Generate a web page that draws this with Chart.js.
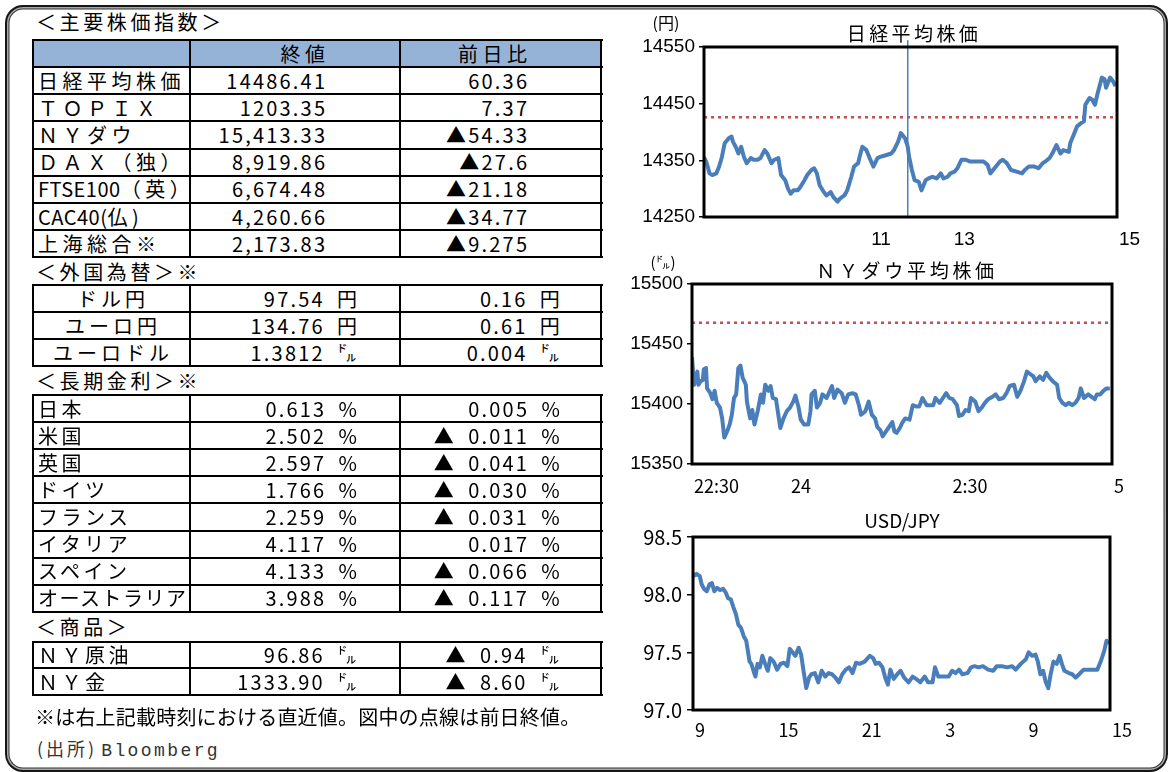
<!DOCTYPE html>
<html lang="ja"><head><meta charset="utf-8">
<script src="https://cdn.jsdelivr.net/npm/chart.js@4.4.0/dist/chart.umd.min.js"></script>
<style>
html,body{margin:0;padding:0;background:#fff}
body{position:relative;width:1170px;height:772px;overflow:hidden;font-family:'Noto Sans CJK JP','Noto Sans',sans-serif;color:#000}
#frame{position:absolute;left:5px;top:5px;width:1159px;height:763px;border:2px solid #151515;border-radius:18px;box-shadow:inset 0 0 0 1.5px #a8a8a8, inset 0 0 0 2.5px #333;}
.t{position:absolute;white-space:nowrap;height:30px;line-height:30px;font-size:20px;}
.ln{position:absolute;background:#000}
.num{letter-spacing:2.2px}
.hw{letter-spacing:0.5px}
.lab1{letter-spacing:4.5px}
.lab2{letter-spacing:4px}
.lab3{letter-spacing:3.5px}
.sec{letter-spacing:3.6px}
canvas{position:absolute}
</style></head><body>
<div id="frame"></div>
<canvas id="c1" width="540" height="240" style="left:620px;top:20px;width:540px;height:240px"></canvas>
<canvas id="c2" width="540" height="250" style="left:620px;top:255px;width:540px;height:250px"></canvas>
<canvas id="c3" width="540" height="260" style="left:620px;top:500px;width:540px;height:260px"></canvas>
<script>
// ===== table data =====
const stockNames = ['日経平均株価','ＴＯＰＩＸ','ＮＹダウ','ＤＡＸ（独）','FTSE100（英）','CAC40(仏)','上海総合※'];
const stockClose = ['14486.41','1203.35','15,413.33','8,919.86','6,674.48','4,260.66','2,173.83'];
const stockChange = ['60.36','7.37','▲54.33','▲27.6','▲21.18','▲34.77','▲9.275'];
const fxNames = ['ドル円','ユーロ円','ユーロドル'];
const fxClose = ['97.54 円','134.76 円','1.3812 ㌦'];
const fxChange = ['0.16 円','0.61 円','0.004 ㌦'];
const bondNames = ['日本','米国','英国','ドイツ','フランス','イタリア','スペイン','オーストラリア'];
const bondClose = ['0.613 %','2.502 %','2.597 %','1.766 %','2.259 %','4.117 %','4.133 %','3.988 %'];
const bondChange = ['0.005 %','▲ 0.011 %','▲ 0.041 %','▲ 0.030 %','▲ 0.031 %','0.017 %','▲ 0.066 %','▲ 0.117 %'];
const commNames = ['ＮＹ原油','ＮＹ金'];
const commClose = ['96.86 ㌦','1333.90 ㌦'];
const commChange = ['▲ 0.94 ㌦','▲ 8.60 ㌦'];
const headerCols = ['終値','前日比'];
const sectionTitles = ['＜主要株価指数＞','＜外国為替＞※','＜長期金利＞※','＜商品＞'];
const noteText = '※は右上記載時刻における直近値。図中の点線は前日終値。';

// ===== chart data =====
const nikkeiMin = [0,2,4,6,9,11,13,15,18,20,21,23,25,27,29,31,34,36,39,41,44,46,49,51,54,56,59,61,63,65,68,70,73,75,78,80,82,84,87,89,92,94,97,99,102,104,107,109,112,113,115,118,120,123,126,128,132,136,138,141,143,146,148,149,151,153,156,158,161,163,166,169,172,174,177,179,182,184,187,190,193,198,203,206,208,211,215,217,220,223,227,231,233,236,240,243,246,248,251,253,256,259,261,265,266,269,271,274,276,277,280,282,284,286,289,291,292,295,297,299];
const nikkeiVal = [14356,14345,14327,14324,14327,14339,14356,14380,14389,14392,14383,14374,14362,14374,14356,14345,14354,14351,14351,14354,14368,14362,14345,14351,14354,14324,14315,14300,14291,14297,14297,14303,14315,14324,14333,14336,14327,14306,14294,14288,14294,14285,14277,14283,14288,14297,14321,14339,14345,14356,14374,14368,14356,14339,14354,14356,14359,14362,14368,14383,14398,14389,14374,14356,14333,14315,14312,14297,14315,14318,14321,14318,14327,14318,14321,14327,14330,14336,14351,14351,14348,14348,14348,14342,14327,14336,14348,14351,14345,14333,14330,14327,14333,14339,14339,14336,14345,14348,14354,14362,14377,14362,14368,14365,14380,14398,14410,14416,14419,14448,14460,14457,14448,14469,14496,14493,14478,14496,14490,14481];
const nikkeiPrev = 14426.05;
const nikkeiBreak = 148;
const nikkeiXTicks = [120,180,300];
const nikkeiXLabels = ['11','13','15'];
const nikkeiYTicks = [14250,14350,14450,14550];

const dowMin = [0,2,3,5,6,8,10,11,13,14,17,19,21,23,26,28,30,33,35,37,39,41,43,45,47,50,51,54,56,58,61,64,66,68,71,73,75,78,80,82,85,88,91,94,96,99,101,104,108,110,111,114,116,119,121,125,128,130,132,135,139,142,145,149,152,155,157,161,164,167,170,172,175,177,180,183,186,188,190,193,195,198,202,205,208,211,214,218,221,224,226,230,233,236,239,242,246,248,251,254,257,259,263,266,269,272,275,279,282,285,289,292,295,299,302,305,308,311,314,317,319,323,326,329,332,335,339,341,344,347,350,353,356,359,361,364,368,371,374,376,379,382,385,388];
const dowVal = [15439,15416,15422,15427,15416,15419,15420,15429,15430,15413,15409,15404,15411,15401,15397,15388,15372,15378,15383,15391,15405,15408,15430,15432,15422,15416,15402,15388,15395,15383,15394,15408,15401,15416,15411,15415,15405,15404,15392,15380,15388,15394,15397,15402,15407,15397,15387,15383,15383,15394,15408,15411,15397,15401,15408,15405,15411,15415,15405,15412,15409,15401,15408,15409,15408,15399,15391,15394,15402,15391,15388,15381,15378,15373,15377,15381,15385,15377,15376,15380,15384,15388,15387,15399,15398,15398,15405,15399,15399,15399,15405,15401,15405,15409,15405,15404,15399,15390,15391,15395,15394,15405,15402,15394,15397,15401,15404,15406,15408,15404,15405,15409,15415,15416,15406,15411,15418,15427,15425,15423,15419,15423,15420,15426,15422,15419,15416,15405,15401,15399,15401,15399,15401,15405,15413,15405,15408,15406,15404,15408,15408,15411,15413,15413];
const dowPrev = 15467.66;
const dowXTicks = [0,90,240,390];
const dowXLabels = ['22:30','24','2:30','5'];
const dowYTicks = [15350,15400,15450,15500];

const fxHour = [0,0.25,0.49,0.62,0.79,0.99,1.19,1.36,1.53,1.73,1.93,2.17,2.35,2.52,2.72,2.91,3.09,3.26,3.46,3.65,3.83,3.95,4.07,4.20,4.35,4.49,4.64,4.81,4.99,5.19,5.38,5.56,5.80,6.05,6.30,6.54,6.79,6.96,7.16,7.36,7.60,7.78,7.95,8.15,8.35,8.52,8.77,9.01,9.26,9.51,9.75,10.0,10.25,10.49,10.74,10.99,11.23,11.48,11.73,11.98,12.35,12.72,12.96,13.14,13.38,13.63,13.83,14.02,14.20,14.44,14.69,14.94,15.19,15.51,15.80,16.05,16.35,16.67,16.91,17.23,17.41,17.65,18.02,18.40,18.64,18.89,19.14,19.38,19.75,20.0,20.25,20.54,20.86,21.23,21.60,21.85,22.22,22.59,22.96,23.21,23.58,23.95,24.15,24.40,24.64,24.81,24.99,25.19,25.38,25.56,25.73,25.93,26.17,26.37,26.54,26.72,27.04,27.28,27.53,27.78,28.10,28.40,28.77,29.09,29.33,29.58,29.75,29.88];
const fxVal = [98.16,98.18,98.16,98.09,98.05,98.03,98.09,98.10,98.03,98.06,98.04,98.05,98.02,97.97,97.96,97.89,97.83,97.74,97.71,97.64,97.60,97.51,97.42,97.40,97.34,97.29,97.40,97.37,97.47,97.40,97.34,97.45,97.42,97.35,97.40,97.41,97.38,97.53,97.50,97.47,97.54,97.48,97.34,97.19,97.28,97.31,97.32,97.24,97.34,97.29,97.32,97.31,97.28,97.24,97.31,97.35,97.37,97.32,97.41,97.40,97.42,97.47,97.45,97.40,97.41,97.37,97.28,97.22,97.35,97.27,97.31,97.34,97.28,97.24,97.29,97.27,97.24,97.29,97.24,97.24,97.37,97.29,97.29,97.29,97.34,97.32,97.35,97.31,97.32,97.37,97.38,97.37,97.38,97.35,97.34,97.38,97.38,97.37,97.38,97.35,97.40,97.44,97.50,97.47,97.48,97.42,97.31,97.34,97.24,97.19,97.31,97.42,97.40,97.47,97.40,97.34,97.32,97.31,97.28,97.31,97.35,97.35,97.35,97.35,97.42,97.51,97.60,97.57];
const fxXTicks = [0,6,12,18,24,30];
const fxXLabels = ['9','15','21','3','9','15'];
const fxYTicks = [97.0,97.5,98.0,98.5];

// ===== HTML helpers =====
const root = document.body;
function el(cls, style, html){ const d=document.createElement('div'); d.className=cls; Object.assign(d.style, style); if(html!==undefined) d.innerHTML=html; root.appendChild(d); return d; }
function line(x,y,w,h){ el('ln',{left:x+'px',top:y+'px',width:w+'px',height:h+'px'}); }
function text(html, x, cy, align, cls, extra){
  const st = {top:(cy-15)+'px'};
  if(align==='left') st.left = x+'px';
  else if(align==='right') st.right = (1170-x)+'px';
  else { st.left=(x-150)+'px'; st.width='300px'; st.textAlign='center'; }
  Object.assign(st, extra||{});
  return el('t '+(cls||''), st, html);
}
const esc = s => s.replace(/&/g,'&amp;').replace(/</g,'&lt;');
const wrapHW = s => esc(s).replace(/[\x21-\x7e]+/g, m => '<span class="hw">'+m+'</span>');
const fmtNum = s => '<span class="num">'+esc(s).replace(/ /g,'\u2002')+'</span>';

function grid(top, heights){
  let y=top; const ys=[y]; heights.forEach(h=>{y+=h; ys.push(y);});
  ys.forEach(yy=>line(32, yy-1, 571, 2));
  [33,190,400,601].forEach(x=>line(x-1, top-1, 2, y-top+2));
  return ys;
}
function rows(top, h, n){ return Array.from({length:n}, ()=>h); }

// section titles
[22,272,381,627].forEach((cy,i)=>text(sectionTitles[i], 36, cy, 'left', 'sec'));

// table 1
el('', {position:'absolute', left:'33px', top:'40px', width:'568px', height:'27px', background:'#95B3D7'});
const ys1 = grid(40, [27].concat(rows(0,27.2,7)));
text(headerCols[0], 329.5, 53.5, 'right', 'lab1');
text(headerCols[1], 531.5, 53.5, 'right', 'lab1');
stockNames.forEach((n,i)=>{
  const cy = (ys1[i+1]+ys1[i+2])/2;
  text(wrapHW(n), 38, cy, 'left', 'lab1');
  text(fmtNum(stockClose[i]), 327.2, cy, 'right');
  text(fmtNum(stockChange[i]), 529.2, cy, 'right');
});
// table 2
const ys2 = grid(285, rows(0,27,3));
fxNames.forEach((n,i)=>{
  const cy=(ys2[i]+ys2[i+1])/2;
  text(wrapHW(n), 113, cy, 'center', 'lab2');
  text(fmtNum(fxClose[i]), 359.2, cy, 'right');
  text(fmtNum(fxChange[i]), 562, cy, 'right');
});
// table 3
const ys3 = grid(395, rows(0,27.1,8));
bondNames.forEach((n,i)=>{
  const cy=(ys3[i]+ys3[i+1])/2;
  const d = text(wrapHW(n), 38, cy, 'left', 'lab3');
  if (d.offsetWidth > 150) { const k = n.length; d.style.letterSpacing = (3.5 - (d.offsetWidth-150)/k)+'px'; }
  text(fmtNum(bondClose[i]), 359.2, cy, 'right');
  text(fmtNum(bondChange[i]), 562, cy, 'right');
});
// table 4
const ys4 = grid(641.5, rows(0,26.7,2));
commNames.forEach((n,i)=>{
  const cy=(ys4[i]+ys4[i+1])/2;
  text(wrapHW(n), 38, cy, 'left', 'lab3');
  text(fmtNum(commClose[i]), 359.2, cy, 'right');
  text(fmtNum(commChange[i]), 562, cy, 'right');
});
text(esc(noteText), 35, 717, 'left', '', {letterSpacing:'0.2px'});
text('<span style="letter-spacing:3px">(出所)</span>&nbsp;<span style="font-family:\'Liberation Mono\',monospace;letter-spacing:2.4px">Bloomberg</span>', 37, 748, 'left', '', {fontSize:'18px', color:'#333'});

// chart titles
text('(円)', 666, 22, 'center', '', {fontSize:'16px'});
text('日経平均株価', 914, 33, 'center', '', {fontSize:'19px', letterSpacing:'3.4px'});
text('(㌦)', 663, 262, 'center', '', {fontSize:'15px'});
text('ＮＹダウ平均株価', 907, 270, 'center', '', {fontSize:'19px', letterSpacing:'3.7px'});
text('USD/JPY', 902, 520, 'center', '', {fontSize:'19px'});

// ===== charts =====
const boxPlugin = {
  id:'plotBox',
  afterDatasetsDraw(chart){
    const {ctx, chartArea:a} = chart;
    ctx.save(); ctx.strokeStyle='#000'; ctx.lineWidth=3;
    ctx.strokeRect(a.left, a.top, a.right-a.left, a.bottom-a.top);
    ctx.restore();
  }
};
const BLUE = '#4A7EBB', RED = '#C0504D';
const SANS = "'Liberation Sans', Arial, sans-serif";
const JP = "'Noto Sans CJK JP', sans-serif";
const pts = (xs, ys) => xs.map((x,i)=>({x, y:ys[i]}));

function lineChart(id, o){
  return new Chart(document.getElementById(id), {
    type:'line',
    data:{datasets:o.datasets},
    options:{
      responsive:false, animation:false, devicePixelRatio:1,
      layout:{autoPadding:false, padding:{left:0, top:o.padTop, right:o.padRight, bottom:0}},
      plugins:{legend:{display:false}, tooltip:{enabled:false}, title:{display:false}},
      elements:{point:{radius:0}, line:{tension:0}},
      scales:{
        x:{type:'linear', min:o.xMin, max:o.xMax,
          afterBuildTicks:s=>{ s.ticks = o.xTicks.map(v=>({value:v})); },
          afterFit:s=>{ s.height = o.xHeight; },
          grid:{display:false}, border:{display:false},
          ticks:{autoSkip:false, maxRotation:0, minRotation:0, align:'start', padding:o.xPad, labelOffset:2, color:'#000', font:o.xFont, callback:(v,i)=>o.xLabels[i]}},
        y:{type:'linear', min:o.yMin, max:o.yMax,
          afterBuildTicks:s=>{ s.ticks = o.yTicks.map(v=>({value:v})); },
          afterFit:s=>{ s.width = o.yWidth; },
          grid:{drawOnChartArea:false, drawTicks:true, tickLength:o.tickLen, color:'#000', lineWidth:1.5},
          border:{display:false},
          ticks:{padding:o.yPad, color:'#000', font:o.yFont, callback:o.yFmt}}
      }
    },
    plugins:[boxPlugin]
  });
}

lineChart('c1', {
  padTop:27, padRight:43, yWidth:84, xHeight:43, xPad:3.5, yPad:4, tickLen:5,
  xMin:0, xMax:300, xTicks:nikkeiXTicks, xLabels:nikkeiXLabels,
  yMin:14250, yMax:14550, yTicks:nikkeiYTicks, yFmt:v=>String(v),
  xFont:{family:SANS, size:19}, yFont:{family:SANS, size:19},
  datasets:[
    {data:pts(nikkeiMin, nikkeiVal), borderColor:BLUE, borderWidth:4, pointRadius:0, borderJoinStyle:'round'},
    {data:[{x:nikkeiBreak,y:14250},{x:nikkeiBreak,y:14562}], borderColor:BLUE, borderWidth:1.5, pointRadius:0, clip:false},
    {data:[{x:0,y:nikkeiPrev},{x:300,y:nikkeiPrev}], borderColor:RED, borderWidth:2.5, borderDash:[3,4], pointRadius:0}
  ]
});
lineChart('c2', {
  padTop:29, padRight:48, yWidth:72, xHeight:41, xPad:3, yPad:4, tickLen:5,
  xMin:0, xMax:390, xTicks:dowXTicks, xLabels:dowXLabels,
  yMin:15350, yMax:15500, yTicks:dowYTicks, yFmt:v=>String(v),
  xFont:{family:JP, size:18}, yFont:{family:SANS, size:19},
  datasets:[
    {data:pts(dowMin, dowVal), borderColor:BLUE, borderWidth:4, pointRadius:0, borderJoinStyle:'round'},
    {data:[{x:0,y:dowPrev},{x:390,y:dowPrev}], borderColor:RED, borderWidth:2.5, borderDash:[3,4], pointRadius:0}
  ]
});
lineChart('c3', {
  padTop:37, padRight:50, yWidth:73, xHeight:50, xPad:1, yPad:5, tickLen:6,
  xMin:0, xMax:30, xTicks:fxXTicks, xLabels:fxXLabels,
  yMin:97.0, yMax:98.5, yTicks:fxYTicks, yFmt:v=>v.toFixed(1),
  xFont:{family:JP, size:18}, yFont:{family:JP, size:20},
  datasets:[
    {data:pts(fxHour, fxVal), borderColor:BLUE, borderWidth:4, pointRadius:0, borderJoinStyle:'round'}
  ]
});
</script>
</body></html>
